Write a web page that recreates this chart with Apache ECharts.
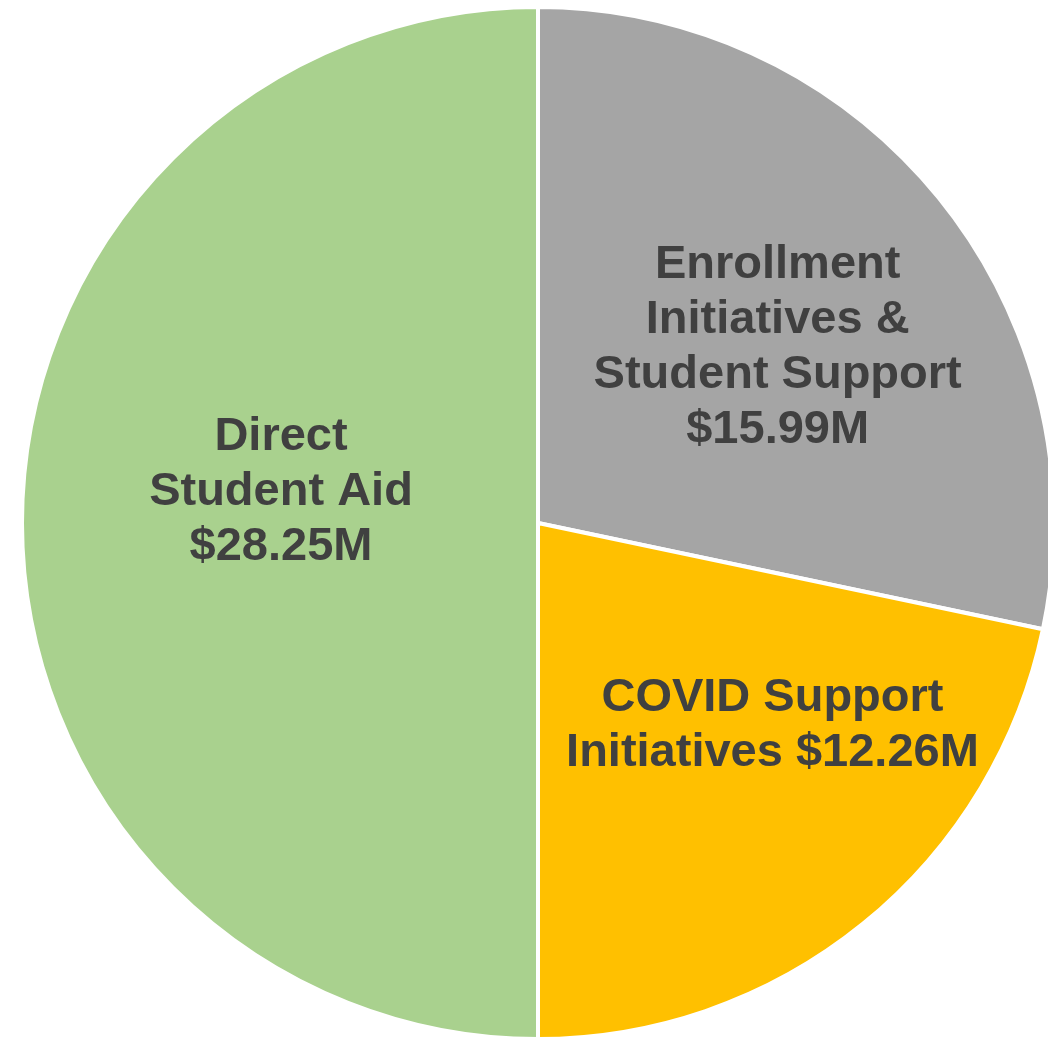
<!DOCTYPE html>
<html>
<head>
<meta charset="utf-8">
<script src="https://cdn.jsdelivr.net/npm/echarts@6/dist/echarts.min.js"></script>
<style>
  html, body { margin: 0; padding: 0; background: #ffffff; }
  #chart { width: 1048px; height: 1039px; }
</style>
</head>
<body>
<div id="chart"></div>
<script>
// Funding categories, in millions of dollars, drawn clockwise from 12 o'clock
const categories = ['Enrollment\nInitiatives &\nStudent Support', 'COVID Support\nInitiatives', 'Direct\nStudent Aid'];
const amounts = [15.99, 12.26, 28.25];
const sliceColors = ['#A5A5A5', '#FFC000', '#A9D18E'];
// How the amount joins the category text in each label
const amountSeparators = ['\n', ' ', '\n'];
// Label nudges from the default inside position
const labelOffsets = [[37, -11], [70, 0], [4, -31]];

const chart = echarts.init(document.getElementById('chart'), null, { renderer: 'canvas' });

const data = categories.map((name, i) => ({
  name: name,
  value: amounts[i],
  itemStyle: { color: sliceColors[i] },
  label: { offset: labelOffsets[i] }
}));

chart.setOption({
  animation: false,
  backgroundColor: '#ffffff',
  series: [{
    type: 'pie',
    center: [538, 523],
    radius: 516,
    startAngle: 90,
    clockwise: true,
    avoidLabelOverlap: false,
    itemStyle: { borderColor: '#ffffff', borderWidth: 4 },
    label: {
      show: true,
      position: 'inside',
      color: '#404040',
      fontFamily: '"Liberation Sans", Arial, sans-serif',
      fontWeight: 'bold',
      fontSize: 47,
      lineHeight: 55,
      align: 'center',
      formatter: function (p) {
        return p.name + amountSeparators[p.dataIndex] + '$' + p.value.toFixed(2) + 'M';
      }
    },
    labelLine: { show: false },
    emphasis: { disabled: true },
    data: data
  }]
});
</script>
</body>
</html>
